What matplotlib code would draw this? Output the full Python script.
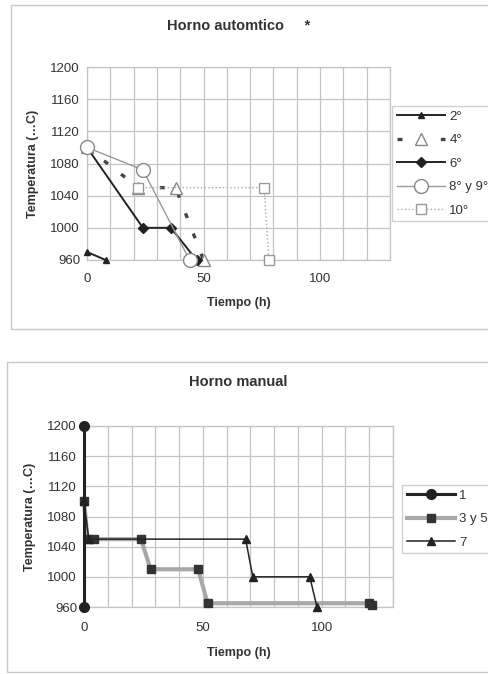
import matplotlib.pyplot as plt
from matplotlib.patches import Rectangle

plt.rcParams['font.family'] = ['Liberation Sans', 'DejaVu Sans']

# Horno automatico
t_2 = [0, 8]
T_2 = [970, 960]
t_4 = [0, 22, 38, 50]
T_4 = [1100, 1050, 1050, 960]
t_6 = [0, 24, 36, 47]
T_6 = [1100, 1000, 1000, 960]
t_89 = [0, 24, 44]
T_89 = [1100, 1072, 960]
t_10 = [22, 76, 78]
T_10 = [1050, 1050, 960]

# Horno manual
t_1 = [0, 0]
T_1 = [1200, 960]
t_35 = [0, 1.5, 4, 24, 28, 48, 52, 120, 121]
T_35 = [1100, 1050, 1050, 1050, 1010, 1010, 965, 965, 962]
t_7 = [0, 2, 68, 71, 95, 98]
T_7 = [1100, 1050, 1050, 1000, 1000, 960]

yticks = [960, 1000, 1040, 1080, 1120, 1160, 1200]
xticks = [0, 50, 100]

fig = plt.figure(figsize=(4.88, 6.74), dpi=100)
W, H = 488, 674

# outer chart frames
fig.patches.append(Rectangle((11 / W, 1 - 329 / H), 500 / W, 324 / H, transform=fig.transFigure,
                             fill=False, edgecolor='#c8c8c8', lw=1.0))
fig.patches.append(Rectangle((7 / W, 1 - 672 / H), 500 / W, 310 / H, transform=fig.transFigure,
                             fill=False, edgecolor='#c8c8c8', lw=1.0))


def style(ax, xpad):
    ax.set_xlim(0, 130)
    ax.set_ylim(960, 1200)
    ax.set_xticks(xticks)
    ax.set_xticks(range(0, 131, 10), minor=True)
    ax.set_yticks(yticks)
    ax.grid(True, which='both', color='#c4c4c4', lw=0.9)
    ax.tick_params(which='both', length=0, labelsize=9.5, colors='#333333', pad=5)
    ax.tick_params(axis='x', pad=xpad)
    for s in ax.spines.values():
        s.set_color('#c4c4c4')
        s.set_linewidth(0.9)
    ax.set_xlabel('Tiempo (h)', fontsize=9, fontweight='bold', color='#333333', labelpad=9)
    ax.set_ylabel('Temperatura (…C)', fontsize=9, fontweight='bold', color='#333333', labelpad=8)


def legend(ax, order, x, y, spacing):
    h, l = ax.get_legend_handles_labels()
    leg = ax.legend([h[i] for i in order], [l[i] for i in order], loc='upper left',
                    bbox_to_anchor=(x / W, 1 - y / H), bbox_transform=fig.transFigure,
                    fontsize=9.5, frameon=True, fancybox=False, edgecolor='#c4c4c4',
                    handlelength=3.7, handletextpad=0.3, labelspacing=spacing, borderpad=0.35,
                    borderaxespad=0)
    leg.get_frame().set_linewidth(0.9)
    for t in leg.get_texts():
        t.set_color('#333333')


ax1 = fig.add_axes([87 / W, 1 - 260 / H, 303 / W, 193 / H])
style(ax1, 9)
ax1.plot(t_4, T_4, ls=(0, (1.5, 5)), color='#444444', lw=2.4, marker='^', ms=8, mfc='white',
         mec='#888888', mew=1, clip_on=False, label='4°', zorder=3)
ax1.plot(t_10, T_10, ls=':', color='#aaaaaa', lw=1.0, marker='s', ms=7, mfc='white',
         mec='#999999', clip_on=False, label='10°', zorder=4)
ax1.plot(t_6, T_6, ls='-', color='#222222', lw=1.4, marker='D', ms=5, mfc='#222222',
         mec='#222222', clip_on=False, label='6°', zorder=5)
ax1.plot(t_89, T_89, ls='-', color='#999999', lw=1.0, marker='o', ms=10, mfc='white',
         mec='#888888', clip_on=False, label='8° y 9°', zorder=6)
ax1.plot(t_2, T_2, ls='-', color='#222222', lw=1.4, marker='^', ms=5, mfc='#222222',
         mec='#222222', clip_on=False, label='2°', zorder=6)
ax1.set_title('Horno automtico     *', fontsize=10.5, fontweight='bold', color='#333333', pad=27)
legend(ax1, [4, 0, 2, 3, 1], 392, 106, 0.85)

ax2 = fig.add_axes([84 / W, 1 - 607 / H, 309 / W, 181 / H])
style(ax2, 11)
ax2.plot(t_35, T_35, ls='-', color='#a8a8a8', lw=3.0, marker='s', ms=6, mfc='#333333',
         mec='#333333', clip_on=False, label='3 y 5', zorder=3)
ax2.plot(t_7, T_7, ls='-', color='#222222', lw=1.1, marker='^', ms=6, mfc='#222222',
         mec='#222222', clip_on=False, label='7', zorder=4)
ax2.plot(t_1, T_1, ls='-', color='#222222', lw=2.2, marker='o', ms=7, mfc='#222222',
         mec='#222222', clip_on=False, label='1', zorder=5)
ax2.set_title('Horno manual', fontsize=10.5, fontweight='bold', color='#333333', pad=29)
legend(ax2, [2, 0, 1], 402, 485, 0.85)

fig.savefig('out.png', dpi=100)
